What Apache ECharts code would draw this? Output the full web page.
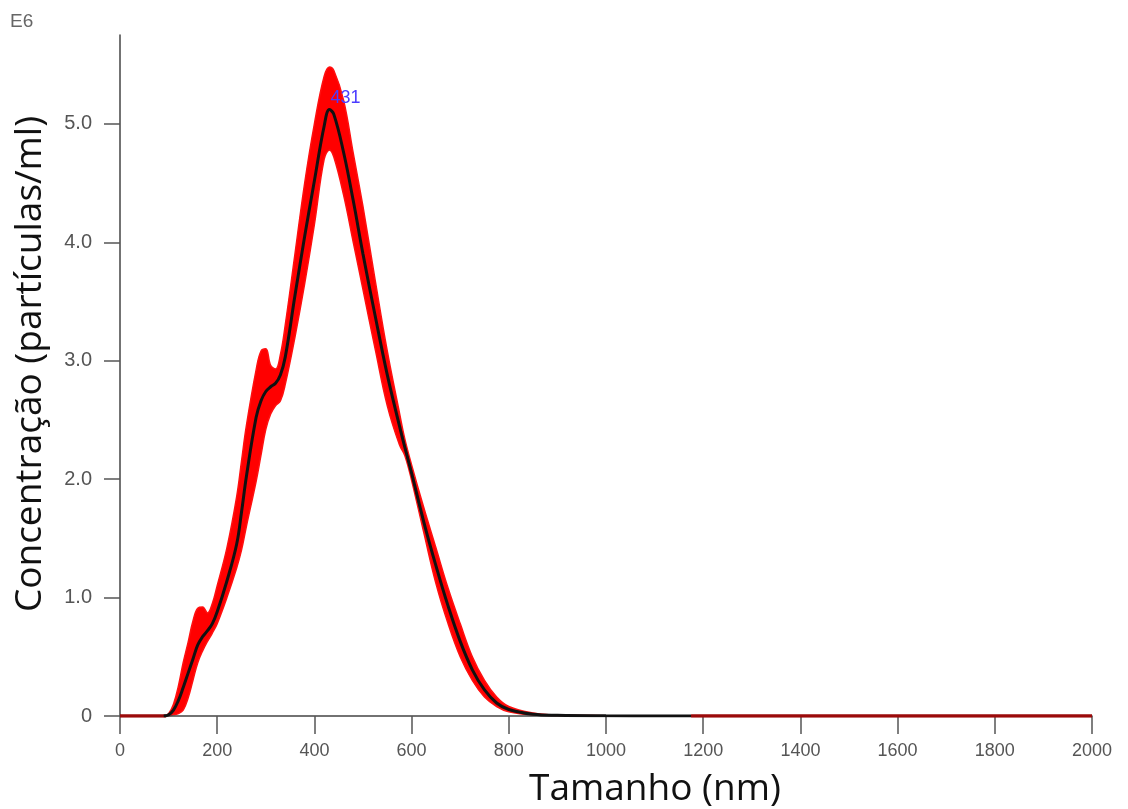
<!DOCTYPE html>
<html>
<head>
<meta charset="utf-8">
<script src="https://cdn.jsdelivr.net/npm/echarts@6/dist/echarts.min.js"></script>
<style>
  html, body { margin: 0; padding: 0; background: #fff; }
  #main { width: 1128px; height: 809px; }
</style>
</head>
<body>
<div id="main"></div>
<script>
// tamanho (nm) - eixo x comum
var sizes = [0, 50, 90, 100, 110, 120, 130, 140, 150, 160, 170, 180, 190, 200, 220, 240, 250, 260, 280, 290, 300,
             310, 320, 330, 340, 360, 380, 400, 420, 431, 440, 460, 480, 500, 525, 550, 575, 586, 600, 625, 650,
             675, 700, 725, 750, 775, 800, 850, 900, 1000, 1175, 1500, 2000];
// concentração média (E6 partículas/ml); '-' = sem linha preta
var meanConc = ['-', '-', 0, 0.01, 0.05, 0.13, 0.24, 0.36, 0.48, 0.6, 0.67, 0.72, 0.78, 0.88, 1.14, 1.45, 1.72, 2.02, 2.52, 2.66, 2.74,
                2.78, 2.81, 2.88, 3.03, 3.55, 4.05, 4.52, 4.98, 5.12, 5.08, 4.76, 4.35, 3.9, 3.38, 2.88, 2.45, 2.27, 2.05, 1.64, 1.27,
                0.93, 0.63, 0.39, 0.22, 0.11, 0.055, 0.015, 0.006, 0.002, 0, '-', '-'];
// limite superior da faixa de erro
var upperConc = [0, 0, 0, 0.02, 0.1, 0.25, 0.45, 0.62, 0.8, 0.91, 0.92, 0.87, 0.95, 1.1, 1.42, 1.85, 2.15, 2.45, 2.92, 3.08, 3.1,
                 2.96, 2.93, 3.05, 3.3, 3.9, 4.5, 5.0, 5.4, 5.48, 5.45, 5.2, 4.75, 4.3, 3.68, 3.08, 2.56, 2.34, 2.12, 1.76, 1.42,
                 1.08, 0.78, 0.5, 0.3, 0.16, 0.08, 0.025, 0.008, 0.003, 0, 0, 0];
// limite inferior da faixa de erro
var lowerConc = [0, 0, 0, 0, 0.01, 0.02, 0.05, 0.15, 0.3, 0.45, 0.55, 0.63, 0.7, 0.78, 1.0, 1.25, 1.4, 1.6, 1.98, 2.2, 2.42,
                 2.55, 2.62, 2.66, 2.8, 3.2, 3.65, 4.15, 4.7, 4.78, 4.72, 4.4, 4.0, 3.6, 3.1, 2.62, 2.29, 2.2, 1.99, 1.55, 1.12,
                 0.78, 0.5, 0.3, 0.16, 0.08, 0.035, 0.008, 0.003, 0.001, 0, 0, 0];
// linha vermelha junto ao eixo (trechos sem sinal)
var baseSizes = [0, 95, 95, 1175, 2000];
var baseConc = [0, 0, '-', 0, 0];
var peakSize = 431;
var peakConc = 5.12;
var yTicks = [0, 1, 2, 3, 4, 5];

function pairs(xs, ys) {
    var out = [];
    for (var i = 0; i < xs.length; i++) out.push([xs[i], ys[i]]);
    return out;
}

var chart = echarts.init(document.getElementById('main'));
var option = {
    animation: false,
    backgroundColor: '#fff',
    grid: { left: 120, right: 36, top: 35, bottom: 93, containLabel: false },
    xAxis: {
        type: 'value', min: 0, max: 2000, interval: 200, z: 4,
        axisLine: { show: true, onZero: false, lineStyle: { color: '#444', width: 1.5 } },
        axisTick: { show: true, length: 18, lineStyle: { color: '#555', width: 1.5 } },
        axisLabel: { margin: 26, color: '#555', fontSize: 18, fontFamily: 'Liberation Sans',
            formatter: function (v) { return String(v); } },
        splitLine: { show: false }
    },
    yAxis: {
        type: 'value', min: 0, max: 5.75, interval: 1, z: 4,
        axisLine: { show: true, lineStyle: { color: '#444', width: 1.5 } },
        axisTick: { show: true, length: 16, lineStyle: { color: '#555', width: 1.5 }, customValues: yTicks },
        axisLabel: { margin: 28, color: '#555', fontSize: 20, fontFamily: 'Liberation Sans', customValues: yTicks,
            formatter: function (v) { return v == 0 ? '0' : v.toFixed(1); } },
        splitLine: { show: false }
    },
    graphic: [
        { type: 'text', left: 10, top: 12, style: { text: 'E6', fill: '#666', font: '19px "Liberation Sans"' } },
        { type: 'text', x: 655, y: 789, style: { text: 'Tamanho (nm)', fill: '#111', font: '37px "Open Sans"',
            align: 'center', verticalAlign: 'middle' } },
        { type: 'text', x: 30, y: 364, rotation: Math.PI / 2,
            style: { text: 'Concentração (partículas/ml)', fill: '#111', font: '37px "Open Sans"',
            align: 'center', verticalAlign: 'middle' } }
    ],
    series: [
        {
            name: 'upper', type: 'line', smooth: 0.4, symbol: 'none',
            lineStyle: { width: 1.5, color: '#ff1010' }, areaStyle: { color: '#ff0000', opacity: 1 },
            data: pairs(sizes, upperConc), z: 2
        },
        {
            name: 'lower', type: 'line', smooth: 0.4, symbol: 'none',
            lineStyle: { width: 1.5, color: '#ff1010' }, areaStyle: { color: '#ffffff', opacity: 1 },
            data: pairs(sizes, lowerConc), z: 3
        },
        {
            name: 'base', type: 'line', symbol: 'none', connectNulls: false,
            lineStyle: { width: 3.5, color: '#9b0a0a' }, data: pairs(baseSizes, baseConc), z: 5
        },
        {
            name: 'mean', type: 'line', smooth: 0.4, symbol: 'none', connectNulls: false,
            lineStyle: { width: 3, color: '#111' }, data: pairs(sizes, meanConc), z: 6,
            markPoint: {
                symbol: 'circle', symbolSize: 0,
                label: { show: true, formatter: String(peakSize), position: 'right', offset: [-4, -12],
                    color: '#4b3cff', fontSize: 18, fontFamily: 'Liberation Sans' },
                data: [{ coord: [peakSize, peakConc] }]
            }
        }
    ]
};
chart.setOption(option);
</script>
</body>
</html>
